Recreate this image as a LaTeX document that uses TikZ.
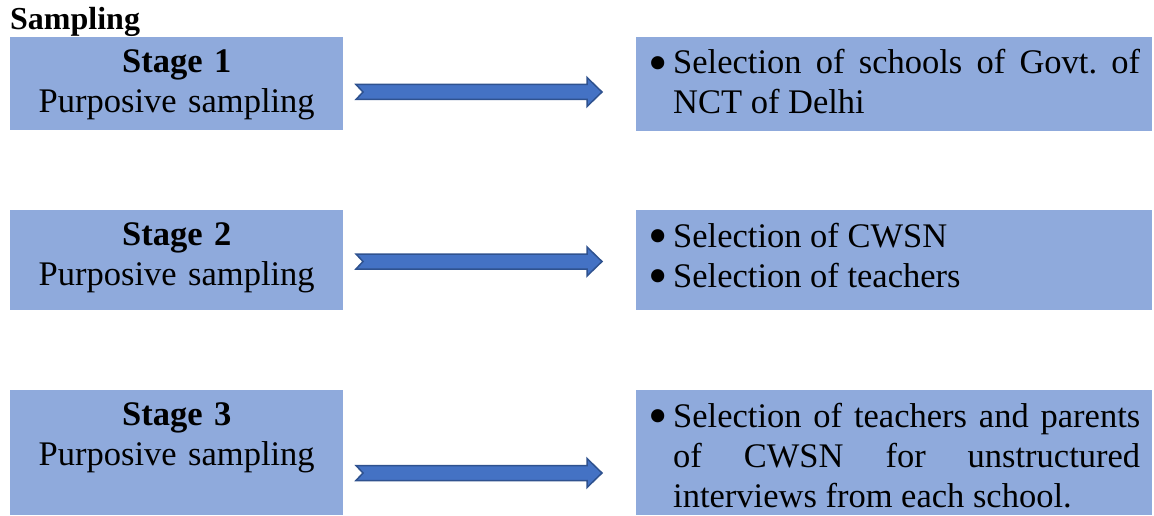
\documentclass[tikz,border=0pt]{standalone}
\usepackage{fontspec}
\setmainfont{Liberation Serif}
\usetikzlibrary{calc,positioning}

\definecolor{boxblue}{HTML}{8FAADC}
\definecolor{arrowblue}{HTML}{4472C4}
\definecolor{arrowedge}{HTML}{2F528F}

\newcommand{\listsetup}{\leftskip=21pt\parindent=0pt\hyphenpenalty=10000\tolerance=10000\frenchspacing}
\newcommand{\bulletitem}{\noindent\llap{\makebox[21pt][l]{\hspace*{-4pt}\smash{\raisebox{-7.5pt}{\scalebox{1.6}{\textbullet}}}}}}

\tikzset{
	stagebox/.style={fill=boxblue, inner sep=0pt, anchor=north west},
	stagetext/.style={anchor=base, text width=333pt, align=center, inner sep=0pt,
		font=\fontsize{34.5}{40}\selectfont},
	listtext/.style={anchor=base west, text width=488pt, align=justify, inner sep=0pt,
		font=\fontsize{34.5}{40}\selectfont},
	blockarrow/.style={fill=arrowblue, draw=arrowedge, line width=1.5pt, line join=miter,
		to path={($(\tikztostart)+(0,7.5pt)$) -- ($(\tikztotarget)+(-15pt,7.5pt)$)
			-- ($(\tikztotarget)+(-15pt,14.5pt)$) -- (\tikztotarget)
			-- ($(\tikztotarget)+(-15pt,-14.5pt)$) -- ($(\tikztotarget)+(-15pt,-7.5pt)$)
			-- ($(\tikztostart)+(0,-7.5pt)$) -- ($(\tikztostart)+(7pt,0)$) -- cycle}}
}

\begin{document}
\begin{tikzpicture}[x=1pt,y=1pt]
	\useasboundingbox (0,0) rectangle (1154,515);

	\node[anchor=base west, inner sep=0pt, font=\fontsize{32}{36}\selectfont\bfseries] (title) at (10,485) {Sampling};

	%left boxes
	\node[stagebox, minimum width=333pt, minimum height=93pt] (s1) at (10,478) {};
	\node[stagebox, minimum width=333pt, minimum height=100pt] (s2) at (10,305) {};
	\node[stagebox, minimum width=333pt, minimum height=125pt] (s3) at (10,125) {};

	\node[stagetext] (s1t) at ([yshift=-35.5pt]s1.north) {\textbf{Stage 1}\\Purposive sampling};
	\node[stagetext] (s2t) at ([yshift=-35.5pt]s2.north) {\textbf{Stage 2}\\Purposive sampling};
	\node[stagetext] (s3t) at ([yshift=-35.5pt]s3.north) {\textbf{Stage 3}\\Purposive sampling};

	%right boxes
	\node[stagebox, minimum width=516pt, minimum height=94pt] (r1) at (636,478) {};
	\node[stagebox, minimum width=516pt, minimum height=100pt] (r2) at (636,305) {};
	\node[stagebox, minimum width=516pt, minimum height=125pt] (r3) at (636,125) {};

	\node[listtext] (r1t) at ([xshift=16pt,yshift=-37pt]r1.north west)
		{\listsetup\bulletitem Selection of schools of Govt. of NCT of Delhi\par};
	\node[listtext] (r2t) at ([xshift=16pt,yshift=-37pt]r2.north west)
		{\listsetup\bulletitem Selection of CWSN\par\bulletitem Selection of teachers\par};
	\node[listtext] (r3t) at ([xshift=16pt,yshift=-37pt]r3.north west)
		{\listsetup\bulletitem Selection of teachers and parents of CWSN for unstructured interviews from each school.\par};

	%arrows
	\coordinate (a1s) at (356,423);
	\coordinate (a1e) at (602,423);
	\coordinate (a2s) at (356,253.5);
	\coordinate (a2e) at (602,253.5);
	\coordinate (a3s) at (356,42);
	\coordinate (a3e) at (602,42);
	\draw[blockarrow] (a1s) to (a1e);
	\draw[blockarrow] (a2s) to (a2e);
	\draw[blockarrow] (a3s) to (a3e);
\end{tikzpicture}
\end{document}
